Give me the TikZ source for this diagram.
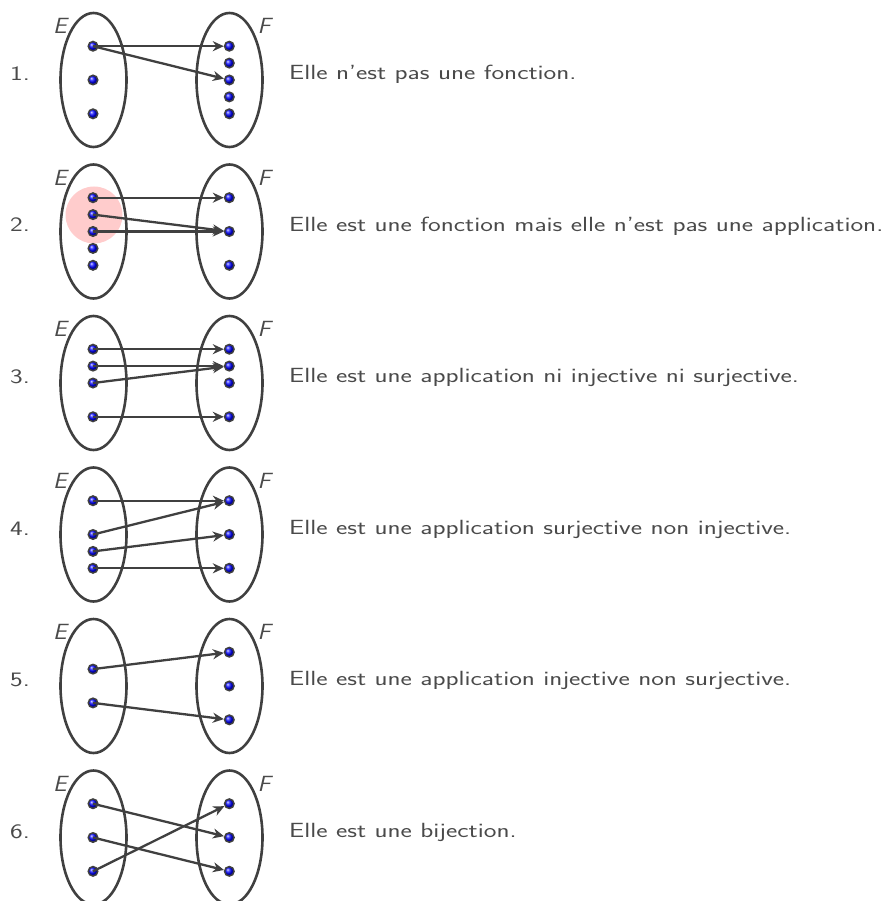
\documentclass[tikz,border=0pt]{standalone}
\usepackage{fontspec}
\newfontfamily\descfont{Latin Modern Sans}[FakeStretch=1.315]
\newfontfamily\labfont{Latin Modern Sans}[FakeStretch=1.1]
\usetikzlibrary{shapes.geometric,arrows.meta}
\definecolor{inkgray}{HTML}{404040}
\definecolor{txtgray}{HTML}{4A4A4A}
\definecolor{pinkhl}{HTML}{FFCCCC}
\tikzset{
  setell/.style={ellipse, draw=inkgray, line width=2.6pt, minimum width=66pt, minimum height=134pt, inner sep=0pt},
  setlab/.style={font=\fontsize{22}{24}\labfont\slshape, text=txtgray, inner sep=0pt},
  numlab/.style={font=\fontsize{20.5}{24}\descfont, text=txtgray, inner sep=0pt, anchor=base},
  desc/.style={font=\fontsize{20.5}{24}\descfont, text=txtgray, inner sep=0pt, anchor=base west},
  elem/.style={circle, inner sep=0pt, minimum size=9.5pt, ball color=blue, draw=inkgray, line width=1.5pt},
  mapto/.style={-{Stealth[length=11pt,width=10pt,inset=3.5pt]}, line width=2.3pt, draw=inkgray},
  hl/.style={circle, fill=pinkhl, draw=none, minimum size=57pt, inner sep=0pt}
}
\newcommand\setpair[3]{%
  \node[setell] (E#1) at (93.5,#2) {};
  \node[setell] (F#1) at (229.5,#2) {};
  \node[setlab] (LE#1) at (60,{#2-54}) {E};
  \node[setlab] (LF#1) at (264,{#2-54}) {F};
  \node[numlab] (N#1) at (20,{#2+0.5}) {#1.};
  \node[desc] (D#1) at (289,{#2-0.5}) {#3};
}
\newcommand\eltE[3]{\node[elem] (#1) at (93,{#2+#3*16.9}) {};}
\newcommand\eltF[3]{\node[elem] (#1) at (229.3,{#2+#3*16.9}) {};}
\begin{document}
\begin{tikzpicture}[x=1pt,y=-1pt]
\useasboundingbox (0,0) rectangle (888,901);
% Row 1
\setpair{1}{80}{Elle n’est pas une fonction.}
\eltE{a1}{80}{-2}\eltE{a2}{80}{0}\eltE{a3}{80}{2}
\eltF{b1}{80}{-2}\eltF{b2}{80}{-1}\eltF{b3}{80}{0}\eltF{b4}{80}{1}\eltF{b5}{80}{2}
\draw[mapto] (a1.center) -- (b1);
\draw[mapto] (a1.center) -- (b3);
% Row 2
\setpair{2}{231.5}{Elle est une fonction mais elle n’est pas une application.}
\node[hl] (H2) at (94,215) {};
\eltE{c1}{231.5}{-2}\eltE{c2}{231.5}{-1}\eltE{c3}{231.5}{0}\eltE{c4}{231.5}{1}\eltE{c5}{231.5}{2}
\eltF{d1}{231.5}{-2}\eltF{d2}{231.5}{0}\eltF{d3}{231.5}{2}
\draw[mapto] (c1.center) -- (d1);
\draw[mapto] (c2.center) -- (d2);
\draw[mapto] (c3.center) -- (d2);
% Row 3
\setpair{3}{383}{Elle est une application ni injective ni surjective.}
\eltE{e1}{383}{-2}\eltE{e2}{383}{-1}\eltE{e3}{383}{0}\eltE{e4}{383}{2}
\eltF{f1}{383}{-2}\eltF{f2}{383}{-1}\eltF{f3}{383}{0}\eltF{f4}{383}{2}
\draw[mapto] (e1.center) -- (f1);
\draw[mapto] (e2.center) -- (f2);
\draw[mapto] (e3.center) -- (f2);
\draw[mapto] (e4.center) -- (f4);
% Row 4
\setpair{4}{534.5}{Elle est une application surjective non injective.}
\eltE{g1}{534.5}{-2}\eltE{g2}{534.5}{0}\eltE{g3}{534.5}{1}\eltE{g4}{534.5}{2}
\eltF{h1}{534.5}{-2}\eltF{h2}{534.5}{0}\eltF{h3}{534.5}{2}
\draw[mapto] (g1.center) -- (h1);
\draw[mapto] (g2.center) -- (h1);
\draw[mapto] (g3.center) -- (h2);
\draw[mapto] (g4.center) -- (h3);
% Row 5
\setpair{5}{686}{Elle est une application injective non surjective.}
\eltE{i1}{686}{-1}\eltE{i2}{686}{1}
\eltF{j1}{686}{-2}\eltF{j2}{686}{0}\eltF{j3}{686}{2}
\draw[mapto] (i1.center) -- (j1);
\draw[mapto] (i2.center) -- (j3);
% Row 6
\setpair{6}{837.5}{Elle est une bijection.}
\eltE{k1}{837.5}{-2}\eltE{k2}{837.5}{0}\eltE{k3}{837.5}{2}
\eltF{l1}{837.5}{-2}\eltF{l2}{837.5}{0}\eltF{l3}{837.5}{2}
\draw[mapto] (k1.center) -- (l2);
\draw[mapto] (k2.center) -- (l3);
\draw[mapto] (k3.center) -- (l1);
\end{tikzpicture}
\end{document}
